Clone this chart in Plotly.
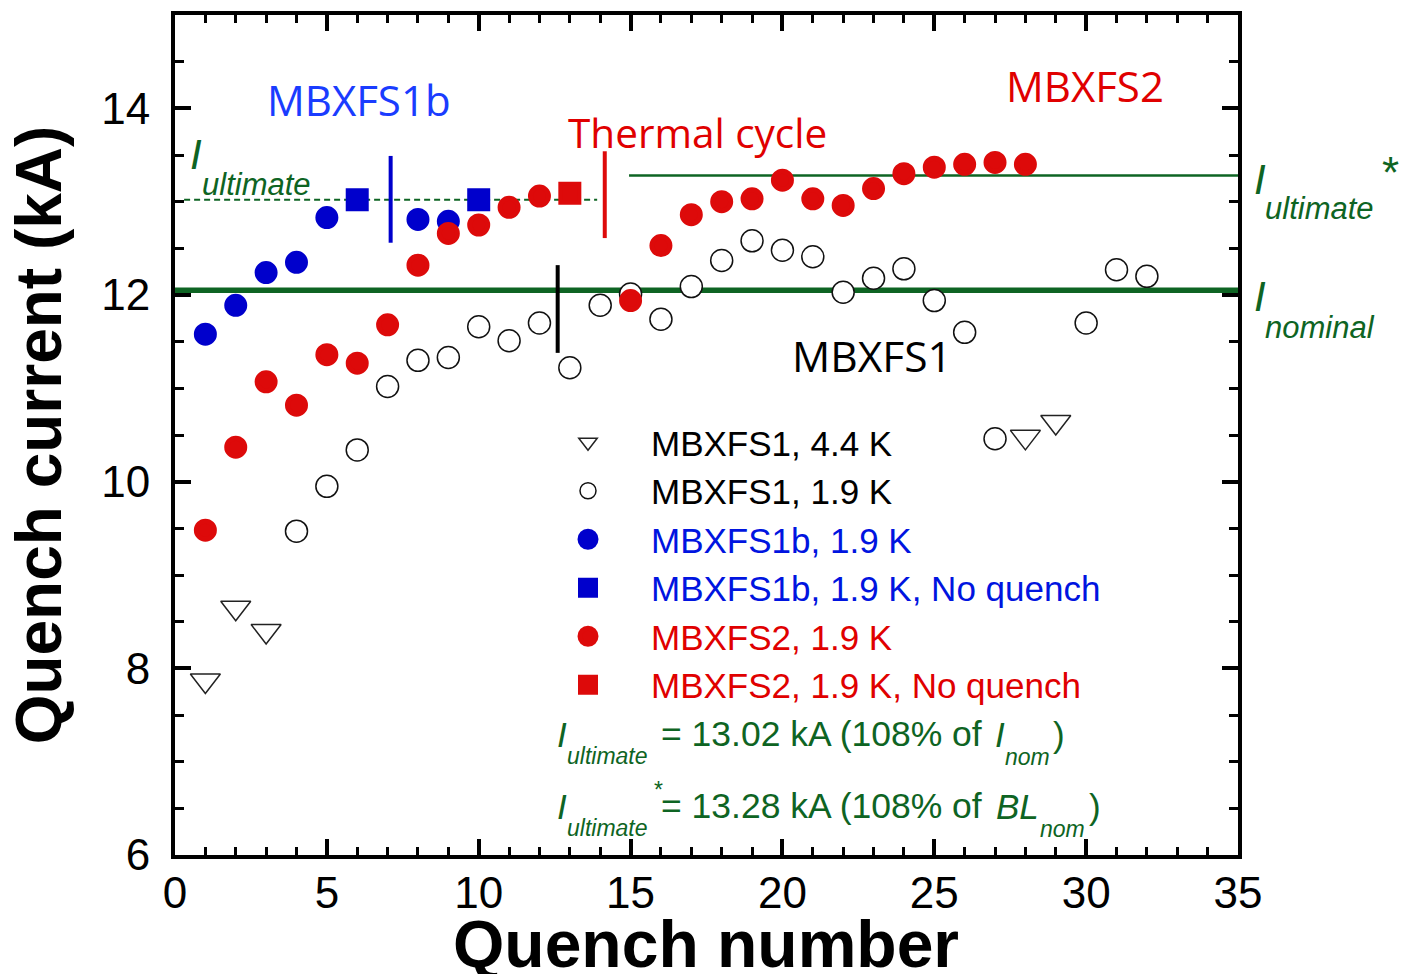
import plotly.graph_objects as go

# ---- quench training data (quench current in kA vs quench number) ----
mbxfs1_44k_n = [1, 2, 3, 28, 29]
mbxfs1_44k_i = [7.87, 8.65, 8.40, 10.48, 10.64]

mbxfs1_19k_n = [4, 5, 6, 7, 8, 9, 10, 11, 12, 13, 14, 15, 16, 17, 18, 19, 20, 21,
                22, 23, 24, 25, 26, 27, 30, 31, 32]
mbxfs1_19k_i = [9.47, 9.95, 10.34, 11.02, 11.30, 11.33, 11.66, 11.51, 11.70, 11.22,
                11.89, 12.01, 11.74, 12.09, 12.37, 12.58, 12.48, 12.41, 12.03, 12.18,
                12.28, 11.94, 11.60, 10.46, 11.70, 12.27, 12.20]

mbxfs1b_n = [1, 2, 3, 4, 5, 8, 9]
mbxfs1b_i = [11.58, 11.89, 12.24, 12.35, 12.83, 12.81, 12.79]
mbxfs1b_nq_n = [6, 10]
mbxfs1b_nq_i = [13.02, 13.02]

mbxfs2_n = [1, 2, 3, 4, 5, 6, 7, 8, 9, 10, 11, 12, 15, 16, 17, 18, 19, 20, 21, 22,
            23, 24, 25, 26, 27, 28]
mbxfs2_i = [9.48, 10.37, 11.07, 10.82, 11.36, 11.27, 11.68, 12.32, 12.66, 12.75,
            12.94, 13.06, 11.94, 12.53, 12.86, 13.00, 13.03, 13.23, 13.03, 12.96,
            13.14, 13.30, 13.37, 13.40, 13.42, 13.40]
mbxfs2_nq_n = [13]
mbxfs2_nq_i = [13.09]

# reference currents (kA)
I_NOMINAL = 12.05
I_ULTIMATE = 13.02
I_ULTIMATE_STAR = 13.28

# extents of the reference-current lines (quench number)
ULT_SPAN = [0.3, 13.9]
ULT_STAR_SPAN = [14.95, 35]
NOM_SPAN = [0, 35]

# event markers: (quench number, lower kA, upper kA)
MBXFS1B_SPLIT = (7.1, 12.56, 13.49)
THERMAL_CYCLE = (14.15, 12.61, 13.54)
MBXFS1_SPLIT = (12.6, 11.38, 12.32)

GREEN = "#0e6423"
BLUE = "#0000cc"
RED = "#dd0a0a"
BLUE_TXT = "#0014e0"
RED_TXT = "#e00000"
ARIAL = "Liberation Sans, Arial, sans-serif"
HUMANIST = "Open Sans, Noto Sans, sans-serif"

fig = go.Figure()

# reference current lines
fig.add_trace(go.Scatter(x=NOM_SPAN, y=[I_NOMINAL] * 2, mode="lines",
                         line=dict(color=GREEN, width=5.5), showlegend=False,
                         hoverinfo="skip"))
fig.add_trace(go.Scatter(x=ULT_SPAN, y=[I_ULTIMATE] * 2, mode="lines",
                         line=dict(color=GREEN, width=2, dash="6px,4px"),
                         showlegend=False, hoverinfo="skip"))
fig.add_trace(go.Scatter(x=ULT_STAR_SPAN, y=[I_ULTIMATE_STAR] * 2, mode="lines",
                         line=dict(color=GREEN, width=2.5), showlegend=False,
                         hoverinfo="skip"))

# vertical event markers
for (xv, y0, y1), col in [(MBXFS1B_SPLIT, BLUE), (THERMAL_CYCLE, RED),
                          (MBXFS1_SPLIT, "black")]:
    fig.add_trace(go.Scatter(x=[xv, xv], y=[y0, y1], mode="lines",
                             line=dict(color=col, width=4), showlegend=False,
                             hoverinfo="skip"))


def legend_name(text, color):
    return f'<span style="color:{color}">{text}</span>'


fig.add_trace(go.Scatter(
    x=mbxfs1_44k_n, y=mbxfs1_44k_i, mode="markers",
    name=legend_name("MBXFS1, 4.4 K", "black"),
    marker=dict(symbol="triangle-down", size=26, color="white",
                line=dict(color="#222222", width=1.5))))
fig.add_trace(go.Scatter(
    x=mbxfs1_19k_n, y=mbxfs1_19k_i, mode="markers",
    name=legend_name("MBXFS1, 1.9 K", "black"),
    marker=dict(symbol="circle", size=22, color="white",
                line=dict(color="#111111", width=1.5))))
fig.add_trace(go.Scatter(
    x=mbxfs1b_n, y=mbxfs1b_i, mode="markers",
    name=legend_name("MBXFS1b, 1.9 K", BLUE_TXT),
    marker=dict(symbol="circle", size=18, color=BLUE,
                line=dict(color=BLUE, width=5))))
fig.add_trace(go.Scatter(
    x=mbxfs1b_nq_n, y=mbxfs1b_nq_i, mode="markers",
    name=legend_name("MBXFS1b, 1.9 K, No quench", BLUE_TXT),
    marker=dict(symbol="square", size=19, color=BLUE,
                line=dict(color=BLUE, width=4))))
fig.add_trace(go.Scatter(
    x=mbxfs2_n, y=mbxfs2_i, mode="markers",
    name=legend_name("MBXFS2, 1.9 K", RED_TXT),
    marker=dict(symbol="circle", size=18, color=RED,
                line=dict(color=RED, width=5))))
fig.add_trace(go.Scatter(
    x=mbxfs2_nq_n, y=mbxfs2_nq_i, mode="markers",
    name=legend_name("MBXFS2, 1.9 K, No quench", RED_TXT),
    marker=dict(symbol="square", size=19, color=RED,
                line=dict(color=RED, width=4))))

# ---- text placement helpers (pixel -> paper fraction) ----
PX_L, PX_R, PX_B, PX_T = 175, 1238, 855, 15


def fx(x):
    return (x - PX_L) / (PX_R - PX_L)


def fy(y):
    return (PX_B - y) / (PX_B - PX_T)


annotations = []


def label(text, x, y, size, color, family=ARIAL, italic=False, anchor="left",
          bold=False):
    annotations.append(dict(
        text=text, x=fx(x), y=fy(y), xref="paper", yref="paper",
        xanchor=anchor, yanchor="middle", showarrow=False,
        font=dict(size=size, color=color, family=family,
                  weight="bold" if bold else "normal",
                  style="italic" if italic else "normal")))


# x-axis title, set low so that the descender runs off the page edge
label("Quench number", 706, 944, 66, "black", anchor="center", bold=True)

# magnet names and event labels
label("MBXFS1b", 359, 100, 42, "#1a3cff", HUMANIST, anchor="center")
label("MBXFS2", 1085, 85, 42, RED_TXT, HUMANIST, anchor="center")
label("Thermal cycle", 697, 133, 40.5, RED_TXT, HUMANIST, anchor="center")
label("MBXFS1", 872, 355, 42.5, "black", HUMANIST, anchor="center")

# reference current labels
label("I", 188, 155, 42, GREEN, italic=True)
label("ultimate", 200, 185, 31, GREEN, italic=True)
label("I", 1252, 180, 42, GREEN, italic=True)
label("ultimate", 1263, 209, 31, GREEN, italic=True)
label("*", 1380, 172, 44, GREEN)
label("I", 1252, 296, 42, GREEN, italic=True)
label("nominal", 1263, 327, 31, GREEN, italic=True)

# definitions
label("I", 555, 734, 35, GREEN, italic=True)
label("ultimate", 565, 756, 23, GREEN, italic=True)
label("= 13.02 kA (108% of ", 659, 734, 35.5, GREEN)
label("I", 993, 734, 35, GREEN, italic=True)
label("nom", 1003, 757, 23, GREEN, italic=True)
label(")", 1051, 734, 35, GREEN)

label("I", 555, 806, 35, GREEN, italic=True)
label("ultimate", 565, 828, 23, GREEN, italic=True)
label("*", 652, 790, 23, GREEN)
label("= 13.28 kA (108% of ", 659, 806, 35.5, GREEN)
label("BL", 994, 806, 35, GREEN, italic=True)
label("nom", 1038, 829, 23, GREEN, italic=True)
label(")", 1087, 806, 35, GREEN)

axis_common = dict(
    showline=True, linecolor="black", linewidth=4, mirror="ticks",
    ticks="inside", tickcolor="black", tickwidth=4, ticklen=16,
    showgrid=False, zeroline=False,
    tickfont=dict(family=ARIAL, size=44, color="black"),
)

fig.update_xaxes(
    range=[0, 35], dtick=5, tick0=0, ticklabelstandoff=-4,
    minor=dict(dtick=1, ticks="inside", ticklen=8, tickwidth=3,
               tickcolor="black", showgrid=False),
    **axis_common)
fig.update_yaxes(
    range=[6, 15], dtick=2, tick0=6, ticklabelstandoff=12,
    minor=dict(dtick=0.5, ticks="inside", ticklen=9, tickwidth=3,
               tickcolor="black", showgrid=False),
    title=dict(text="Quench current (kA)", standoff=20,
               font=dict(family=ARIAL, size=64, color="black", weight="bold")),
    **axis_common)

fig.update_layout(
    width=1404, height=974,
    margin=dict(l=PX_L, r=1404 - PX_R, t=PX_T, b=974 - PX_B, autoexpand=False),
    paper_bgcolor="white", plot_bgcolor="white",
    annotations=annotations,
    legend=dict(x=fx(525), y=fy(413), xanchor="left", yanchor="top",
                bgcolor="rgba(0,0,0,0)", borderwidth=0, itemwidth=116,
                font=dict(family=ARIAL, size=35, color="black"),
                traceorder="normal"),
    showlegend=True,
)

fig.write_html("out.html")
